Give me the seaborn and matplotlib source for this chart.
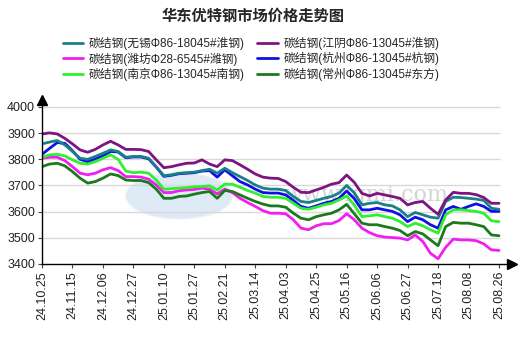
import numpy as np
import pandas as pd
import seaborn as sns
import matplotlib
matplotlib.use("Agg")
import matplotlib.pyplot as plt
from matplotlib.patches import Ellipse

# Tick labels (one every 4 observations)
tick_labels = ["24.10.25", "24.11.15", "24.12.06", "24.12.27", "25.01.10", "25.01.27",
               "25.02.21", "25.03.14", "25.04.03", "25.04.25", "25.05.16", "25.06.06",
               "25.06.27", "25.07.18", "25.08.08", "25.08.26"]

# Price series (yuan/ton)
wuxi = [3859, 3866, 3872, 3855, 3830, 3804, 3800, 3811, 3823, 3836, 3830, 3808, 3811, 3811, 3804, 3772,
        3737, 3741, 3747, 3749, 3751, 3757, 3762, 3747, 3766, 3749, 3734, 3719, 3702, 3690, 3686, 3686,
        3681, 3658, 3639, 3635, 3643, 3651, 3658, 3671, 3700, 3672, 3626, 3632, 3635, 3626, 3622, 3607,
        3581, 3597, 3588, 3579, 3575, 3639, 3655, 3654, 3651, 3648, 3643, 3613, 3609]
jiangyin = [3897, 3901, 3897, 3880, 3859, 3836, 3827, 3838, 3855, 3869, 3855, 3838, 3838, 3837, 3830, 3798,
            3768, 3772, 3779, 3785, 3786, 3798, 3782, 3772, 3798, 3795, 3779, 3762, 3744, 3732, 3728, 3727,
            3715, 3693, 3674, 3673, 3683, 3693, 3705, 3711, 3740, 3712, 3670, 3660, 3670, 3664, 3658, 3651,
            3626, 3635, 3639, 3613, 3590, 3645, 3674, 3670, 3670, 3665, 3654, 3632, 3632]
weifang = [3804, 3808, 3808, 3795, 3772, 3747, 3741, 3747, 3760, 3768, 3757, 3734, 3734, 3732, 3724, 3702,
           3673, 3673, 3680, 3683, 3685, 3690, 3686, 3668, 3686, 3673, 3651, 3635, 3620, 3604, 3594, 3594,
           3592, 3569, 3537, 3531, 3546, 3554, 3554, 3566, 3592, 3569, 3537, 3520, 3508, 3503, 3501, 3499,
           3492, 3511, 3486, 3441, 3420, 3464, 3495, 3492, 3492, 3489, 3477, 3454, 3452]
hangzhou = [3819, 3842, 3864, 3861, 3833, 3800, 3791, 3802, 3813, 3830, 3828, 3806, 3809, 3809, 3802, 3770,
            3735, 3739, 3745, 3747, 3749, 3755, 3757, 3732, 3760, 3737, 3715, 3702, 3686, 3673, 3671, 3671,
            3664, 3643, 3620, 3613, 3622, 3632, 3639, 3651, 3679, 3650, 3607, 3607, 3613, 3607, 3601, 3588,
            3562, 3579, 3569, 3550, 3537, 3607, 3620, 3609, 3620, 3630, 3620, 3601, 3601]
nanjing = [3808, 3817, 3819, 3813, 3798, 3785, 3782, 3791, 3804, 3817, 3800, 3755, 3749, 3751, 3747, 3721,
           3686, 3688, 3690, 3692, 3695, 3696, 3699, 3683, 3705, 3705, 3693, 3681, 3671, 3658, 3655, 3655,
           3651, 3632, 3613, 3609, 3617, 3626, 3632, 3645, 3660, 3625, 3581, 3584, 3588, 3581, 3575, 3562,
           3543, 3556, 3546, 3531, 3518, 3588, 3607, 3607, 3604, 3601, 3594, 3565, 3562]
changzhou = [3772, 3782, 3785, 3775, 3753, 3728, 3709, 3715, 3728, 3744, 3738, 3721, 3719, 3719, 3711, 3686,
             3651, 3651, 3658, 3660, 3667, 3673, 3677, 3651, 3681, 3677, 3664, 3651, 3639, 3629, 3622, 3622,
             3617, 3594, 3575, 3569, 3581, 3588, 3594, 3607, 3628, 3592, 3556, 3550, 3550, 3543, 3537, 3528,
             3508, 3524, 3515, 3492, 3470, 3543, 3559, 3556, 3556, 3550, 3543, 3511, 3508]

names = ["碳结钢(无锡Φ86-18045#淮钢)", "碳结钢(江阴Φ86-13045#淮钢)",
         "碳结钢(潍坊Φ28-6545#潍钢)", "碳结钢(杭州Φ86-13045#杭钢)",
         "碳结钢(南京Φ86-13045#南钢)", "碳结钢(常州Φ86-13045#东方)"]
colors = ["#19808a", "#7d1580", "#f01ef0", "#1010e6", "#2ef02e", "#1c7a1c"]
series = [wuxi, jiangyin, weifang, hangzhou, nanjing, changzhou]

# Draw order: blue underneath teal
draw_order = [3, 0, 1, 2, 4, 5]
frames = []
for k in draw_order:
    frames.append(pd.DataFrame({"idx": np.arange(len(series[k])), "price": series[k], "name": names[k]}))
df = pd.concat(frames, ignore_index=True)

sns.set_theme(style="white")
plt.rcParams["font.family"] = ["Liberation Sans", "Noto Sans CJK SC", "DejaVu Sans"]

fig = plt.figure(figsize=(5.23, 3.42), dpi=100)
ax = fig.add_axes([42 / 523, 1 - 264 / 342, (512 - 42) / 523, (264 - 100) / 342])

n = len(wuxi)
x_last = n - 1
xmax = x_last * (512 - 42) / (499 - 42)
ymax = 4000 + (107 - 100) / 0.262

# Watermark
ax.add_patch(Ellipse((18.0, 3660), 13.8, 170, facecolor="#c9dcf0", edgecolor="#dfe9f5",
                     lw=2, alpha=0.6, zorder=0))
ax.text(42.6, 3664, "www.lgmi.com", fontsize=16, color="#d4d4d4", family="DejaVu Serif",
        ha="center", va="center", zorder=0)

for v in [3500, 3600, 3700, 3800, 3900, 4000]:
    ax.hlines(v, 0, x_last + 0.1, color="#d9d9d9", lw=1, zorder=0.5)

palette = {names[k]: colors[k] for k in range(6)}
sns.lineplot(data=df, x="idx", y="price", hue="name", hue_order=[names[k] for k in draw_order],
             palette=palette, lw=2, sort=False, ax=ax, legend=True)

ax.set_xlim(0, xmax)
ax.set_ylim(3400, ymax)
ax.set_xticks(np.arange(0, n, 4))
ax.set_xticklabels(tick_labels, rotation=90, fontsize=9, color="#222222")
ax.set_yticks([3400, 3500, 3600, 3700, 3800, 3900, 4000])
ax.set_yticklabels(["3400", "3500", "3600", "3700", "3800", "3900", "4000"], fontsize=9, color="#222222")
ax.tick_params(axis="both", length=3, width=0.8, color="#444444", pad=2, direction="out")
ax.tick_params(axis="x", bottom=True)
ax.tick_params(axis="y", left=True)
ax.set_xlabel("")
ax.set_ylabel("")
for s in ["top", "right"]:
    ax.spines[s].set_visible(False)
for s in ["left", "bottom"]:
    ax.spines[s].set_color("black")
    ax.spines[s].set_linewidth(1)

# Axis arrow heads
ax.plot(1, 0, marker=">", color="black", markersize=7, transform=ax.transAxes, clip_on=False)
ax.plot(0, 1, marker="^", color="black", markersize=7, transform=ax.transAxes, clip_on=False)

handles, labels = ax.get_legend_handles_labels()
ax.get_legend().remove()
hmap = dict(zip(labels, handles))
col_order = [0, 2, 4, 1, 3, 5]
leg = fig.legend([hmap[names[k]] for k in col_order], [names[k] for k in col_order],
                 ncol=2, loc="center", bbox_to_anchor=(251 / 523, 1 - 59 / 342),
                 frameon=False, handlelength=1.75, handletextpad=0.5,
                 columnspacing=1.0, labelspacing=0.2, borderpad=0,
                 prop={"family": ["Liberation Sans", "Noto Sans CJK SC"], "size": 8.5})
for line in leg.get_lines():
    line.set_linewidth(2)

fig.text(253 / 523, 1 - 16 / 342, "华东优特钢市场价格走势图", ha="center", va="center",
         fontsize=11, fontweight="bold", family=["Noto Sans CJK SC", "DejaVu Sans"])

fig.savefig("out.png", dpi=100, facecolor="white")
